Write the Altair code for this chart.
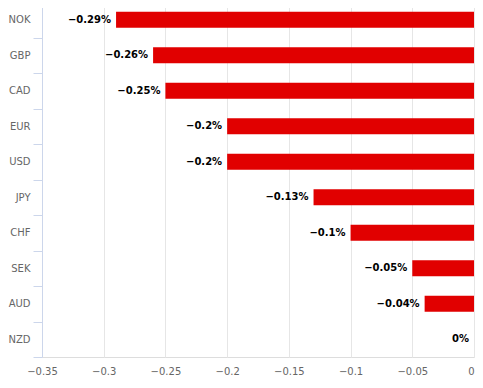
import altair as alt
import pandas as pd

currencies = ["NOK", "GBP", "CAD", "EUR", "USD", "JPY", "CHF", "SEK", "AUD", "NZD"]
changes = [-0.29, -0.26, -0.25, -0.2, -0.2, -0.13, -0.1, -0.05, -0.04, 0]
x_ticks = [-0.35, -0.3, -0.25, -0.2, -0.15, -0.1, -0.05, 0]

df = pd.DataFrame({"currency": currencies, "change": changes})

FONT = "DejaVu Sans"

x_enc = alt.X(
    "change:Q",
    scale=alt.Scale(domain=[-0.35, 0], nice=False, zero=False),
    axis=alt.Axis(
        values=x_ticks, title=None, domain=False, ticks=False, format="~g",
        grid=True, gridColor="#e6e6e6", gridWidth=1,
        labelColor="#666666", labelFont=FONT, labelFontSize=10,
        labelPadding=9, labelFlush=False,
        labelAlign=alt.expr("datum.value == 0 ? 'right' : 'center'"),
    ),
)
y_enc = alt.Y(
    "currency:N", sort=currencies,
    scale=alt.Scale(paddingInner=0, paddingOuter=0),
    axis=alt.Axis(
        title=None, domainColor="#ccd6eb", domainWidth=1,
        tickColor="#ccd6eb", tickSize=9, tickBand="extent",
        labelColor="#666666", labelFont=FONT, labelFontSize=10,
        labelPadding=3, grid=False,
    ),
)

bars = alt.Chart(df).mark_bar(size=16, color="#e10000").encode(
    x=x_enc, x2=alt.datum(0), y=y_enc
)

labels = alt.Chart(df).transform_calculate(
    lab="format(datum.change, '') + '%'"
).mark_text(
    align="right", baseline="middle", dx=-5, font=FONT, fontSize=10,
    fontWeight="bold", color="#000000",
).encode(
    x="change:Q", y=alt.Y("currency:N", sort=currencies), text="lab:N"
)

chart = alt.layer(bars, labels).properties(
    width=432, height=355,
    autosize=alt.AutoSizeParams(type="none"),
    padding={"left": 34, "top": -6, "right": 1, "bottom": 30},
).configure_view(stroke=None).configure(background="white")

chart.save("out.html", embed_options={"renderer": "svg", "actions": False})
